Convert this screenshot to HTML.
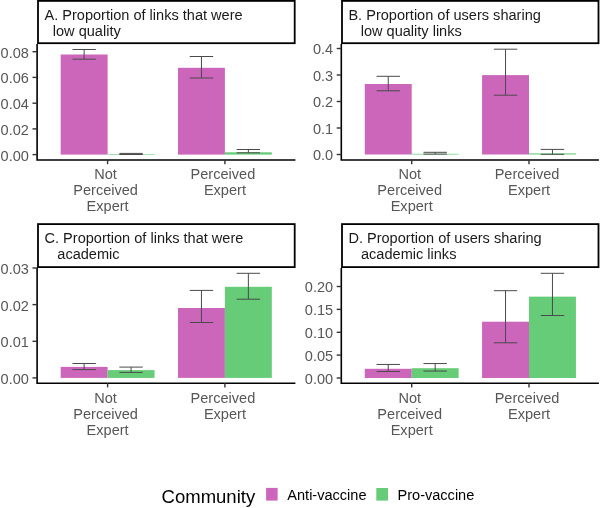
<!DOCTYPE html>
<html><head><meta charset="utf-8"><style>
html,body{margin:0;padding:0;background:#fff;}
svg{display:block;font-kerning:none;will-change:transform;font-family:"Liberation Sans",sans-serif;font-size:14.55px;}
</style></head><body>
<svg width="600" height="508" viewBox="0 0 600 508">
<rect width="600" height="508" fill="#fff"/>
<rect x="60.68" y="54.50" width="46.92" height="100.10" fill="#CC66BB"/>
<rect x="107.60" y="154.00" width="46.92" height="0.60" fill="#66CC77"/>
<rect x="177.98" y="67.80" width="46.92" height="86.80" fill="#CC66BB"/>
<rect x="224.90" y="152.30" width="46.92" height="2.30" fill="#66CC77"/>
<path d="M72.44 49.50H95.84M84.14 49.50V59.20M72.44 59.20H95.84" stroke="#4a4a4a" stroke-width="1.0" fill="none"/>
<path d="M119.36 153.40H142.76M131.06 153.40V154.50M119.36 154.50H142.76" stroke="#4a4a4a" stroke-width="1.0" fill="none"/>
<path d="M189.74 56.50H213.14M201.44 56.50V78.00M189.74 78.00H213.14" stroke="#4a4a4a" stroke-width="1.0" fill="none"/>
<path d="M236.66 149.50H260.06M248.36 149.50V152.80M236.66 152.80H260.06" stroke="#4a4a4a" stroke-width="1.0" fill="none"/>
<path d="M37.10 44.10V160.80M36.30 160.00H295.40" stroke="#000" stroke-width="1.6" fill="none"/>
<path d="M32.50 51.70H37.10" stroke="#333" stroke-width="1.4"/>
<text transform="translate(28.90 57.60) scale(1 1.04)" text-anchor="end" fill="#575757">0.08</text>
<path d="M32.50 77.40H37.10" stroke="#333" stroke-width="1.4"/>
<text transform="translate(28.90 83.30) scale(1 1.04)" text-anchor="end" fill="#575757">0.06</text>
<path d="M32.50 103.20H37.10" stroke="#333" stroke-width="1.4"/>
<text transform="translate(28.90 109.10) scale(1 1.04)" text-anchor="end" fill="#575757">0.04</text>
<path d="M32.50 128.90H37.10" stroke="#333" stroke-width="1.4"/>
<text transform="translate(28.90 134.80) scale(1 1.04)" text-anchor="end" fill="#575757">0.02</text>
<path d="M32.50 154.60H37.10" stroke="#333" stroke-width="1.4"/>
<text transform="translate(28.90 160.50) scale(1 1.04)" text-anchor="end" fill="#575757">0.00</text>
<path d="M107.60 160.00V164.20" stroke="#333" stroke-width="1.4"/>
<path d="M224.90 160.00V164.20" stroke="#333" stroke-width="1.4"/>
<text x="105.60" y="179.20" text-anchor="middle" fill="#575757">Not</text>
<text x="105.60" y="195.20" text-anchor="middle" fill="#575757">Perceived</text>
<text x="107.60" y="211.20" text-anchor="middle" fill="#575757">Expert</text>
<text x="222.90" y="179.20" text-anchor="middle" fill="#575757">Perceived</text>
<text x="224.90" y="195.20" text-anchor="middle" fill="#575757">Expert</text>
<rect x="38.00" y="0.90" width="256.70" height="42.30" fill="#fff" stroke="#000" stroke-width="1.8"/>
<text x="44.50" y="19.50" fill="#1A1A1A">A. Proportion of links that were</text>
<text x="52.80" y="35.75" fill="#1A1A1A">low quality</text>
<rect x="364.78" y="84.00" width="46.92" height="70.50" fill="#CC66BB"/>
<rect x="411.70" y="153.80" width="46.92" height="0.70" fill="#66CC77"/>
<rect x="482.08" y="75.10" width="46.92" height="79.40" fill="#CC66BB"/>
<rect x="529.00" y="153.40" width="46.92" height="1.10" fill="#66CC77"/>
<path d="M376.54 76.30H399.94M388.24 76.30V90.80M376.54 90.80H399.94" stroke="#4a4a4a" stroke-width="1.0" fill="none"/>
<path d="M423.46 152.30H446.86M435.16 152.30V154.10M423.46 154.10H446.86" stroke="#4a4a4a" stroke-width="1.0" fill="none"/>
<path d="M493.84 49.20H517.24M505.54 49.20V95.20M493.84 95.20H517.24" stroke="#4a4a4a" stroke-width="1.0" fill="none"/>
<path d="M540.76 149.40H564.16M552.46 149.40V154.30M540.76 154.30H564.16" stroke="#4a4a4a" stroke-width="1.0" fill="none"/>
<path d="M341.30 44.10V160.80M340.50 160.00H598.90" stroke="#000" stroke-width="1.6" fill="none"/>
<path d="M336.70 48.50H341.30" stroke="#333" stroke-width="1.4"/>
<text transform="translate(333.10 54.40) scale(1 1.04)" text-anchor="end" fill="#575757">0.4</text>
<path d="M336.70 75.00H341.30" stroke="#333" stroke-width="1.4"/>
<text transform="translate(333.10 80.90) scale(1 1.04)" text-anchor="end" fill="#575757">0.3</text>
<path d="M336.70 101.50H341.30" stroke="#333" stroke-width="1.4"/>
<text transform="translate(333.10 107.40) scale(1 1.04)" text-anchor="end" fill="#575757">0.2</text>
<path d="M336.70 128.00H341.30" stroke="#333" stroke-width="1.4"/>
<text transform="translate(333.10 133.90) scale(1 1.04)" text-anchor="end" fill="#575757">0.1</text>
<path d="M336.70 154.50H341.30" stroke="#333" stroke-width="1.4"/>
<text transform="translate(333.10 160.40) scale(1 1.04)" text-anchor="end" fill="#575757">0.0</text>
<path d="M411.70 160.00V164.20" stroke="#333" stroke-width="1.4"/>
<path d="M529.00 160.00V164.20" stroke="#333" stroke-width="1.4"/>
<text x="409.70" y="179.20" text-anchor="middle" fill="#575757">Not</text>
<text x="409.70" y="195.20" text-anchor="middle" fill="#575757">Perceived</text>
<text x="411.70" y="211.20" text-anchor="middle" fill="#575757">Expert</text>
<text x="527.00" y="179.20" text-anchor="middle" fill="#575757">Perceived</text>
<text x="529.00" y="195.20" text-anchor="middle" fill="#575757">Expert</text>
<rect x="342.00" y="0.90" width="256.50" height="42.30" fill="#fff" stroke="#000" stroke-width="1.8"/>
<text x="348.40" y="19.50" fill="#1A1A1A">B. Proportion of users sharing</text>
<text x="360.70" y="35.75" fill="#1A1A1A">low quality links</text>
<rect x="60.68" y="366.90" width="46.92" height="11.00" fill="#CC66BB"/>
<rect x="107.60" y="370.10" width="46.92" height="7.80" fill="#66CC77"/>
<rect x="177.98" y="308.00" width="46.92" height="69.90" fill="#CC66BB"/>
<rect x="224.90" y="286.80" width="46.92" height="91.10" fill="#66CC77"/>
<path d="M72.44 363.50H95.84M84.14 363.50V369.60M72.44 369.60H95.84" stroke="#4a4a4a" stroke-width="1.0" fill="none"/>
<path d="M119.36 367.10H142.76M131.06 367.10V372.40M119.36 372.40H142.76" stroke="#4a4a4a" stroke-width="1.0" fill="none"/>
<path d="M189.74 290.40H213.14M201.44 290.40V322.50M189.74 322.50H213.14" stroke="#4a4a4a" stroke-width="1.0" fill="none"/>
<path d="M236.66 273.30H260.06M248.36 273.30V299.20M236.66 299.20H260.06" stroke="#4a4a4a" stroke-width="1.0" fill="none"/>
<path d="M37.10 268.00V384.00M36.30 383.20H295.40" stroke="#000" stroke-width="1.6" fill="none"/>
<path d="M32.50 268.00H37.10" stroke="#333" stroke-width="1.4"/>
<text transform="translate(28.90 273.90) scale(1 1.04)" text-anchor="end" fill="#575757">0.03</text>
<path d="M32.50 304.60H37.10" stroke="#333" stroke-width="1.4"/>
<text transform="translate(28.90 310.50) scale(1 1.04)" text-anchor="end" fill="#575757">0.02</text>
<path d="M32.50 341.30H37.10" stroke="#333" stroke-width="1.4"/>
<text transform="translate(28.90 347.20) scale(1 1.04)" text-anchor="end" fill="#575757">0.01</text>
<path d="M32.50 377.90H37.10" stroke="#333" stroke-width="1.4"/>
<text transform="translate(28.90 383.80) scale(1 1.04)" text-anchor="end" fill="#575757">0.00</text>
<path d="M107.60 383.20V387.40" stroke="#333" stroke-width="1.4"/>
<path d="M224.90 383.20V387.40" stroke="#333" stroke-width="1.4"/>
<text x="105.60" y="403.00" text-anchor="middle" fill="#575757">Not</text>
<text x="105.60" y="419.00" text-anchor="middle" fill="#575757">Perceived</text>
<text x="107.60" y="435.00" text-anchor="middle" fill="#575757">Expert</text>
<text x="222.90" y="403.00" text-anchor="middle" fill="#575757">Perceived</text>
<text x="224.90" y="419.00" text-anchor="middle" fill="#575757">Expert</text>
<rect x="38.00" y="224.10" width="256.70" height="43.00" fill="#fff" stroke="#000" stroke-width="1.8"/>
<text x="44.50" y="242.95" fill="#1A1A1A">C. Proportion of links that were</text>
<text x="57.30" y="259.00" fill="#1A1A1A">academic</text>
<rect x="364.78" y="368.80" width="46.92" height="9.20" fill="#CC66BB"/>
<rect x="411.70" y="368.20" width="46.92" height="9.80" fill="#66CC77"/>
<rect x="482.08" y="321.70" width="46.92" height="56.30" fill="#CC66BB"/>
<rect x="529.00" y="296.65" width="46.92" height="81.35" fill="#66CC77"/>
<path d="M376.54 364.45H399.94M388.24 364.45V371.50M376.54 371.50H399.94" stroke="#4a4a4a" stroke-width="1.0" fill="none"/>
<path d="M423.46 363.55H446.86M435.16 363.55V371.05M423.46 371.05H446.86" stroke="#4a4a4a" stroke-width="1.0" fill="none"/>
<path d="M493.84 290.70H517.24M505.54 290.70V342.80M493.84 342.80H517.24" stroke="#4a4a4a" stroke-width="1.0" fill="none"/>
<path d="M540.76 273.30H564.16M552.46 273.30V315.50M540.76 315.50H564.16" stroke="#4a4a4a" stroke-width="1.0" fill="none"/>
<path d="M341.30 268.00V384.00M340.50 383.20H598.90" stroke="#000" stroke-width="1.6" fill="none"/>
<path d="M336.70 286.50H341.30" stroke="#333" stroke-width="1.4"/>
<text transform="translate(333.10 292.40) scale(1 1.04)" text-anchor="end" fill="#575757">0.20</text>
<path d="M336.70 309.40H341.30" stroke="#333" stroke-width="1.4"/>
<text transform="translate(333.10 315.30) scale(1 1.04)" text-anchor="end" fill="#575757">0.15</text>
<path d="M336.70 332.30H341.30" stroke="#333" stroke-width="1.4"/>
<text transform="translate(333.10 338.20) scale(1 1.04)" text-anchor="end" fill="#575757">0.10</text>
<path d="M336.70 355.10H341.30" stroke="#333" stroke-width="1.4"/>
<text transform="translate(333.10 361.00) scale(1 1.04)" text-anchor="end" fill="#575757">0.05</text>
<path d="M336.70 378.00H341.30" stroke="#333" stroke-width="1.4"/>
<text transform="translate(333.10 383.90) scale(1 1.04)" text-anchor="end" fill="#575757">0.00</text>
<path d="M411.70 383.20V387.40" stroke="#333" stroke-width="1.4"/>
<path d="M529.00 383.20V387.40" stroke="#333" stroke-width="1.4"/>
<text x="409.70" y="403.00" text-anchor="middle" fill="#575757">Not</text>
<text x="409.70" y="419.00" text-anchor="middle" fill="#575757">Perceived</text>
<text x="411.70" y="435.00" text-anchor="middle" fill="#575757">Expert</text>
<text x="527.00" y="403.00" text-anchor="middle" fill="#575757">Perceived</text>
<text x="529.00" y="419.00" text-anchor="middle" fill="#575757">Expert</text>
<rect x="342.00" y="224.10" width="256.50" height="43.00" fill="#fff" stroke="#000" stroke-width="1.8"/>
<text x="348.40" y="242.95" fill="#1A1A1A">D. Proportion of users sharing</text>
<text x="361.00" y="259.00" fill="#1A1A1A">academic links</text>
<text x="161.60" y="503.10" font-size="18.5" fill="#000">Community</text>
<rect x="266.1" y="487.9" width="11.5" height="12.7" fill="#CC66BB"/>
<text x="287.30" y="500.30" fill="#000">Anti-vaccine</text>
<rect x="376.3" y="488.0" width="11.7" height="12.6" fill="#66CC77"/>
<text x="397.50" y="500.30" fill="#000">Pro-vaccine</text>
</svg>
</body></html>
